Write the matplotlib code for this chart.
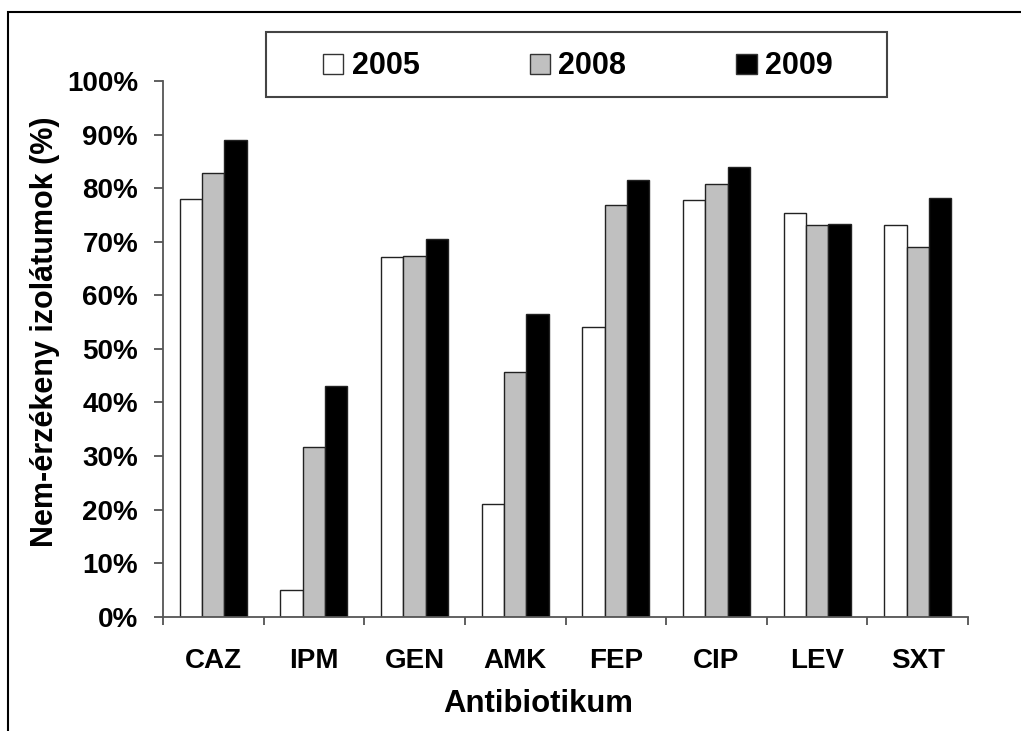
import numpy as np
import matplotlib
matplotlib.use("Agg")
import matplotlib.pyplot as plt
from matplotlib.patches import Rectangle, Patch

plt.rcParams['font.family'] = ['Liberation Sans', 'DejaVu Sans']
plt.rcParams['font.weight'] = 'bold'

antibiotics = ["CAZ", "IPM", "GEN", "AMK", "FEP", "CIP", "LEV", "SXT"]
years = ["2005", "2008", "2009"]
r2005 = [77.9, 5.0, 67.1, 21.0, 54.0, 77.7, 75.3, 73.2]
r2008 = [82.8, 31.6, 67.3, 45.6, 76.8, 80.7, 73.1, 69.1]
r2009 = [89.0, 43.0, 70.5, 56.5, 81.5, 83.9, 73.3, 78.1]
fills = ["white", "#c0c0c0", "black"]

W, H = 1021, 731
fig = plt.figure(figsize=(W / 100, H / 100), dpi=100)
ax = fig.add_axes([163 / W, 1 - 616.7 / H, (968 - 163) / W, (616.7 - 81) / H])

x = np.arange(len(antibiotics))
bw = 0.222
for i, (vals, fc) in enumerate(zip([r2005, r2008, r2009], fills)):
    ax.bar(x + (i - 1) * bw, np.array(vals) / 100, width=bw, color=fc,
           edgecolor="#222222", linewidth=1.0, label=years[i])

ax.set_xlim(-0.5, len(antibiotics) - 0.5)
ax.set_ylim(0, 1)

# category separators as tick marks, names centred between them
ax.set_xticks(np.arange(len(antibiotics) + 1) - 0.5)
ax.set_xticklabels([])
ax.tick_params(axis="x", which="major", length=6, width=1.2, color="#444444", direction="out")
ax.set_xticks(x, minor=True)
ax.set_xticklabels(antibiotics, minor=True, fontsize=20, fontweight="bold")
ax.tick_params(axis="x", which="minor", length=0, pad=22.5)

yt = np.arange(0, 1.01, 0.1)
ax.set_yticks(yt)
ax.set_yticklabels([f"{int(round(v * 100))}%" for v in yt], fontsize=20, fontweight="bold")
ax.tick_params(axis="y", length=6.5, width=1.2, color="#444444", direction="out", pad=11.5)

for s in ["top", "right"]:
    ax.spines[s].set_visible(False)
for s in ["left", "bottom"]:
    ax.spines[s].set_color("#555555")
    ax.spines[s].set_linewidth(1.3)

ax.set_xlabel("Antibiotikum", fontsize=22.4, fontweight="bold")
ax.xaxis.set_label_coords(0.466, -0.135)
ax.set_ylabel("Nem-érzékeny izolátumok (%)", fontsize=22, fontweight="bold")
ax.yaxis.set_label_coords(-0.128, 0.531)

# legend box drawn on its own, entries placed inside it
fig.patches.append(Rectangle((266 / W, 1 - 97 / H), (887 - 266) / W, (97 - 32) / H,
                             transform=fig.transFigure, facecolor="white",
                             edgecolor="#444444", linewidth=1.5, zorder=3))
handles = [Patch(facecolor=fc, edgecolor="#333333", linewidth=1.0, label=y)
           for fc, y in zip(fills, years)]
leg = fig.legend(handles=handles, loc="center left", ncol=3,
                 bbox_to_anchor=(323 / W, 1 - 66.3 / H),
                 prop={"size": 22, "weight": "bold"},
                 handlelength=0.67, handleheight=0.63, handletextpad=0.27,
                 columnspacing=3.6, borderpad=0, frameon=False, borderaxespad=0)
leg.set_zorder(4)

# outer frame, open past the right and bottom edges
fig.patches.append(Rectangle((8 / W, -0.05), 1.1, 1.05 - 12 / H, transform=fig.transFigure,
                             fill=False, edgecolor="black", linewidth=1.5))

fig.savefig("out.png", dpi=100)
